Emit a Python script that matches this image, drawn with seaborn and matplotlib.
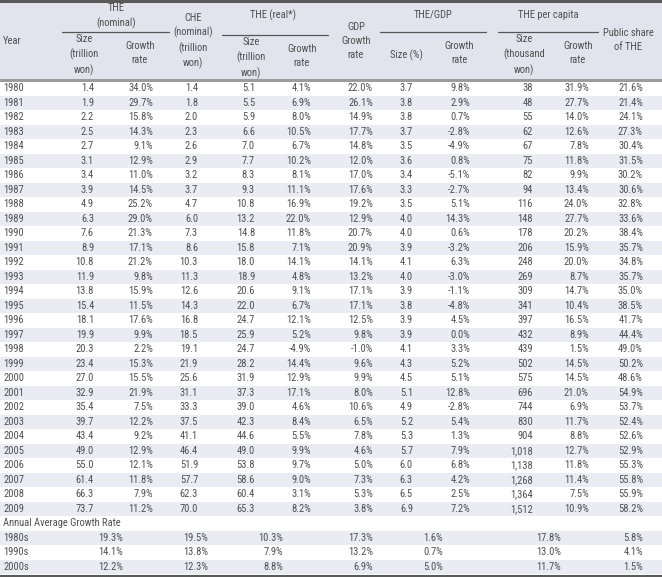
import matplotlib
matplotlib.use("Agg")
import matplotlib.pyplot as plt
from matplotlib import font_manager
import seaborn as sns

# ---------------- data ----------------
years = list(range(1980, 2010))
the_nom_size = [1.4, 1.9, 2.2, 2.5, 2.7, 3.1, 3.4, 3.9, 4.9, 6.3, 7.6, 8.9, 10.8, 11.9, 13.8,
                15.4, 18.1, 19.9, 20.3, 23.4, 27.0, 32.9, 35.4, 39.7, 43.4, 49.0, 55.0, 61.4, 66.3, 73.7]
the_nom_growth = [34.0, 29.7, 15.8, 14.3, 9.1, 12.9, 11.0, 14.5, 25.2, 29.0, 21.3, 17.1, 21.2, 9.8, 15.9,
                  11.5, 17.6, 9.9, 2.2, 15.3, 15.5, 21.9, 7.5, 12.2, 9.2, 12.9, 12.1, 11.8, 7.9, 11.2]
che_nom = [1.4, 1.8, 2.0, 2.3, 2.6, 2.9, 3.2, 3.7, 4.7, 6.0, 7.3, 8.6, 10.3, 11.3, 12.6,
           14.3, 16.8, 18.5, 19.1, 21.9, 25.6, 31.1, 33.3, 37.5, 41.1, 46.4, 51.9, 57.7, 62.3, 70.0]
the_real_size = [5.1, 5.5, 5.9, 6.6, 7.0, 7.7, 8.3, 9.3, 10.8, 13.2, 14.8, 15.8, 18.0, 18.9, 20.6,
                 22.0, 24.7, 25.9, 24.7, 28.2, 31.9, 37.3, 39.0, 42.3, 44.6, 49.0, 53.8, 58.6, 60.4, 65.3]
the_real_growth = [4.1, 6.9, 8.0, 10.5, 6.7, 10.2, 8.1, 11.1, 16.9, 22.0, 11.8, 7.1, 14.1, 4.8, 9.1,
                   6.7, 12.1, 5.2, -4.9, 14.4, 12.9, 17.1, 4.6, 8.4, 5.5, 9.9, 9.7, 9.0, 3.1, 8.2]
gdp_growth = [22.0, 26.1, 14.9, 17.7, 14.8, 12.0, 17.0, 17.6, 19.2, 12.9, 20.7, 20.9, 14.1, 13.2, 17.1,
              17.1, 12.5, 9.8, -1.0, 9.6, 9.9, 8.0, 10.6, 6.5, 7.8, 4.6, 5.0, 7.3, 5.3, 3.8]
the_gdp_size = [3.7, 3.8, 3.8, 3.7, 3.5, 3.6, 3.4, 3.3, 3.5, 4.0, 4.0, 3.9, 4.1, 4.0, 3.9,
                3.8, 3.9, 3.9, 4.1, 4.3, 4.5, 5.1, 4.9, 5.2, 5.3, 5.7, 6.0, 6.3, 6.5, 6.9]
the_gdp_growth = [9.8, 2.9, 0.7, -2.8, -4.9, 0.8, -5.1, -2.7, 5.1, 14.3, 0.6, -3.2, 6.3, -3.0, -1.1,
                  -4.8, 4.5, 0.0, 3.3, 5.2, 5.1, 12.8, -2.8, 5.4, 1.3, 7.9, 6.8, 4.2, 2.5, 7.2]
pc_size = [38, 48, 55, 62, 67, 75, 82, 94, 116, 148, 178, 206, 248, 269, 309,
           341, 397, 432, 439, 502, 575, 696, 744, 830, 904, 1018, 1138, 1268, 1364, 1512]
pc_growth = [31.9, 27.7, 14.0, 12.6, 7.8, 11.8, 9.9, 13.4, 24.0, 27.7, 20.2, 15.9, 20.0, 8.7, 14.7,
             10.4, 16.5, 8.9, 1.5, 14.5, 14.5, 21.0, 6.9, 11.7, 8.8, 12.7, 11.8, 11.4, 7.5, 10.9]
public_share = [21.6, 21.4, 24.1, 27.3, 30.4, 31.5, 30.2, 30.6, 32.8, 33.6, 38.4, 35.7, 34.8, 35.7, 35.0,
                38.5, 41.7, 44.4, 49.0, 50.2, 48.6, 54.9, 53.7, 52.4, 52.6, 52.9, 55.3, 55.8, 55.9, 58.2]

decades = ["1980s", "1990s", "2000s"]
avg_the = [19.3, 14.1, 12.2]
avg_che = [19.5, 13.8, 12.3]
avg_real = [10.3, 7.9, 8.8]
avg_gdp = [17.3, 13.2, 6.9]
avg_the_gdp = [1.6, 0.7, 5.0]
avg_pc = [17.8, 13.0, 11.7]
avg_public = [5.8, 4.1, 1.5]

# ---------------- style ----------------
sns.set_theme(style="white")
avail = {f.name for f in font_manager.fontManager.ttflist}
family = "DejaVu Sans"
for cand in ["Liberation Sans Narrow", "Roboto Condensed", "Liberation Sans", "Roboto"]:
    if cand in avail:
        family = cand
        break
plt.rcParams["font.family"] = [family, "DejaVu Sans"]

TXT = "#505050"
HDR_BG = "#e3e3ed"
STRIPE = "#ebebf4"
FS = 7.6

W, H = 662, 577
fig = plt.figure(figsize=(W / 100, H / 100), dpi=100)
ax = fig.add_axes([0, 0, 1, 1])
ax.set_xlim(0, W)
ax.set_ylim(H, 0)
ax.axis("off")

HDR_BOTTOM = 80
ROW_H = 14.5
TOP = 81


def row_y(i):
    return TOP + ROW_H * (i + 0.5)


# header background
ax.axhspan(0, HDR_BOTTOM, color=HDR_BG, zorder=0, lw=0)

# row stripes
n_rows = len(years) + 1 + len(decades)
for i in range(n_rows):
    if i % 2 == 1:
        ax.axhspan(TOP + ROW_H * i, TOP + ROW_H * (i + 1), color=STRIPE, zorder=0, lw=0)

# borders
ax.axhline(1, color="#5a5a5a", lw=2.2, zorder=3)
ax.axhline(HDR_BOTTOM, color="#9c9c9c", lw=2.2, zorder=3)
ax.axhline(H - 1, color="#5a5a5a", lw=2.2, zorder=3)


def t(x, y, s, ha="center", va="center", **kw):
    ax.text(x, y, s, ha=ha, va=va, fontsize=FS, color=TXT, linespacing=1.45, zorder=4, **kw)


# header texts
t(3, 41, "Year", ha="left")
t(116, 16, "THE\n(nominal)")
ax.plot([62, 169], [31.5, 31.5], color="#555555", lw=0.9)
t(84, 55, "Size\n(trillion\nwon)")
t(140, 53, "Growth\nrate")
t(193, 41, "CHE\n(nominal)\n(trillion\nwon)")
t(273, 15, "THE (real*)")
ax.plot([222, 328], [35, 35], color="#555555", lw=0.9)
t(251, 58, "Size\n(trillion\nwon)")
t(302, 56, "Growth\nrate")
t(356, 41, "GDP\nGrowth\nrate")
t(433, 15, "THE/GDP")
ax.plot([380, 486], [31.5, 31.5], color="#555555", lw=0.9)
t(406, 55, "Size (%)")
t(459, 53, "Growth\nrate")
t(548, 15, "THE per capita")
ax.plot([498, 598], [31.5, 31.5], color="#555555", lw=0.9)
t(524, 55, "Size\n(thousand\nwon)")
t(578, 53, "Growth\nrate")
t(628, 40, "Public share\nof THE")


def pct(v):
    return f"{v:.1f}%"


cols = [
    (94, the_nom_size, lambda v: f"{v:.1f}"),
    (153, the_nom_growth, pct),
    (198, che_nom, lambda v: f"{v:.1f}"),
    (255, the_real_size, lambda v: f"{v:.1f}"),
    (311, the_real_growth, pct),
    (373, gdp_growth, pct),
    (413, the_gdp_size, lambda v: f"{v:.1f}"),
    (470, the_gdp_growth, pct),
    (533, pc_size, lambda v: f"{v:,}"),
    (589, pc_growth, pct),
    (643, public_share, pct),
]

for i, yr in enumerate(years):
    y = row_y(i)
    t(3, y, str(yr), ha="left")
    for x, arr, fmt in cols:
        t(x, y, fmt(arr[i]), ha="right")

lab_i = len(years)
t(3, row_y(lab_i), "Annual Average Growth Rate", ha="left")

avg_cols = [
    (123, avg_the), (208, avg_che), (283, avg_real), (373, avg_gdp),
    (443, avg_the_gdp), (561, avg_pc), (643, avg_public),
]
for j, d in enumerate(decades):
    y = row_y(lab_i + 1 + j)
    t(3, y, d, ha="left")
    for x, arr in avg_cols:
        t(x, y, pct(arr[j]), ha="right")

fig.savefig("out.png", dpi=100)
